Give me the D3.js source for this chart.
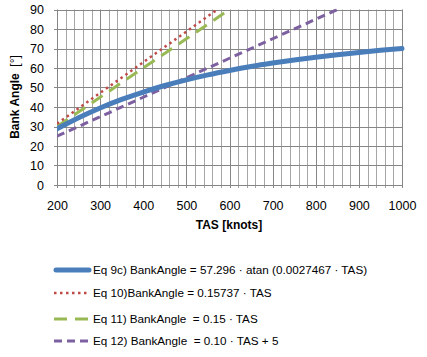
<!DOCTYPE html>
<html><head><meta charset="utf-8">
<script src="https://cdn.jsdelivr.net/npm/d3@7"></script>
<style>body{margin:0;background:#fff}text{font-family:"Liberation Sans",Arial,sans-serif;white-space:pre}</style>
</head><body>
<svg id="c" width="427" height="357"></svg>
<script>
const tas = [200,250,300,350,400,450,500,550,600,650,700,750,800,850,900,950,1000];
const eq9c = [28.78,34.47,39.50,43.87,47.69,51.03,53.94,56.49,58.73,60.76,62.54,64.15,65.56,66.84,68.00,69.07,70.00];
const tas10 = [200,300,400,500,572];
const eq10 = [31.47,47.21,62.95,78.69,90];
const tas11 = [200,300,400,500,600];
const eq11 = [30,45,60,75,90];
const tas12 = [200,300,400,500,600,700,800,850];
const eq12 = [25,35,45,55,65,75,85,90];
const xTicks = [200,300,400,500,600,700,800,900,1000];
const yTicks = [0,10,20,30,40,50,60,70,80,90];
const legendLabels = [
 "Eq 9c) BankAngle = 57.296 \u00b7 atan (0.0027467 \u00b7 TAS)",
 "Eq 10)BankAngle = 0.15737 \u00b7 TAS",
 "Eq 11) BankAngle  = 0.15 \u00b7 TAS",
 "Eq 12) BankAngle  = 0.10 \u00b7 TAS + 5"
];

const svg = d3.select("#c");
const L=57, R=402, T=9.5, B=185;
const x = d3.scaleLinear().domain([200,1000]).range([L,R]);
const y = d3.scaleLinear().domain([0,90]).range([B,T]);

const g = svg.append("g");
d3.range(220,1000,20).filter(v=>v%100!==0).forEach(v=>{
  g.append("line").attr("x1",Math.round(x(v))+0.5).attr("x2",Math.round(x(v))+0.5).attr("y1",T).attr("y2",B+3)
   .attr("stroke","#a6a6a6").attr("stroke-width",1);
});
xTicks.forEach(v=>{
  g.append("line").attr("x1",Math.round(x(v))+0.5).attr("x2",Math.round(x(v))+0.5).attr("y1",T).attr("y2",B+3)
   .attr("stroke","#868686").attr("stroke-width",1);
});
yTicks.forEach(v=>{
  g.append("line").attr("x1",L-3).attr("x2",R).attr("y1",Math.round(y(v))+0.5).attr("y2",Math.round(y(v))+0.5)
   .attr("stroke","#868686").attr("stroke-width",1);
});

const xAxis = d3.axisBottom(x).tickValues(xTicks).tickFormat(d3.format("d")).tickSize(0).tickPadding(16);
svg.append("g").attr("transform",`translate(0,${B})`).call(xAxis)
  .call(s=>s.select(".domain").remove())
  .selectAll("text").attr("font-size",12.5).attr("fill","#000").style("font-family","Liberation Sans, Arial");
const yAxis = d3.axisLeft(y).tickValues(yTicks).tickSize(0).tickPadding(13);
svg.append("g").attr("transform",`translate(${L},0)`).call(yAxis)
  .call(s=>s.select(".domain").remove())
  .selectAll("text").attr("font-size",12.5).attr("fill","#000").style("font-family","Liberation Sans, Arial");

svg.append("defs").append("clipPath").attr("id","clip").append("rect")
  .attr("x",L).attr("y",T-1).attr("width",R-L+3).attr("height",B-T+2);

const line = d3.line().x(d=>x(d[0])).y(d=>y(d[1])).curve(d3.curveMonotoneX);
const series = [
  {xs:tas, ys:eq9c, color:"#4a7ebb", w:5, dash:null, cap:"round"},
  {xs:tas10, ys:eq10, color:"#be4b48", w:2.5, dash:"2.5 3.5", cap:"butt"},
  {xs:tas11, ys:eq11, color:"#98b954", w:3, dash:"13 8", cap:"butt"},
  {xs:tas12, ys:eq12, color:"#7d60a0", w:3, dash:"8 5", cap:"butt"}
];
const pg = svg.append("g").attr("clip-path","url(#clip)");
[3,2,1,0].forEach(i=>{
  const s=series[i];
  pg.append("path").datum(s.xs.map((v,k)=>[v,s.ys[k]])).attr("d",line)
    .attr("fill","none").attr("stroke",s.color).attr("stroke-width",s.w)
    .attr("stroke-dasharray",s.dash).attr("stroke-linecap",s.cap);
});

svg.append("text").attr("x",229).attr("y",229).attr("text-anchor","middle")
  .attr("font-size",12).attr("font-weight","bold").text("TAS [knots]");
const yl = svg.append("text").attr("transform","translate(19,97) rotate(-90)").attr("text-anchor","middle").attr("font-size",12);
yl.append("tspan").attr("font-weight","bold").text("Bank Angle  ");
yl.append("tspan").text("[\u00b0]");

const ly = [270,293,319,341];
series.forEach((s,i)=>{
  svg.append("line").attr("x1",s.cap==="round"?56:54).attr("x2",s.cap==="round"?89:90).attr("y1",ly[i]).attr("y2",ly[i])
    .attr("stroke",s.color).attr("stroke-width",s.w).attr("stroke-dasharray",s.dash).attr("stroke-linecap",s.cap);
  svg.append("text").attr("x",93).attr("y",ly[i]+4).attr("font-size",11.7).attr("fill","#000").text(legendLabels[i]);
});
</script>
</body></html>
